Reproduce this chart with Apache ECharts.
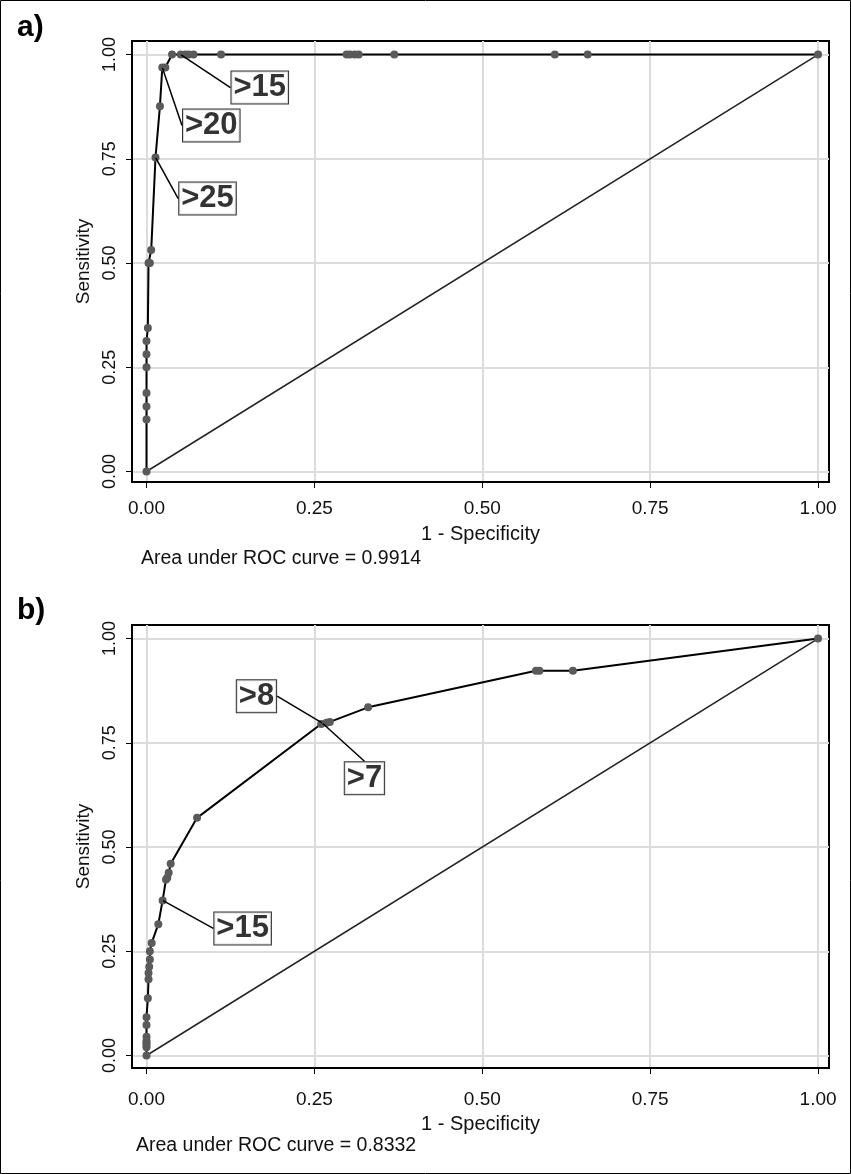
<!DOCTYPE html>
<html>
<head>
<meta charset="utf-8">
<script src="https://cdn.jsdelivr.net/npm/echarts@6/dist/echarts.min.js"></script>
<style>
html, body { margin: 0; padding: 0; background: #fff; }
#chart { width: 851px; height: 1174px; }
</style>
</head>
<body>
<div id="chart"></div>
<script>
// axis ticks shared by both panels
const tickValues = [0, 0.25, 0.5, 0.75, 1];

// panel a) ROC points (1 - specificity, sensitivity)
const fprA = [0, 0, 0, 0, 0, 0, 0, 0.002, 0.003, 0.005, 0.007, 0.0134, 0.02, 0.0235, 0.028,
    0.038, 0.051, 0.058, 0.063, 0.07, 0.111, 0.298, 0.303, 0.31, 0.316, 0.369, 0.608, 0.657, 1];
const tprA = [0, 0.125, 0.156, 0.188, 0.25, 0.281, 0.313, 0.344, 0.5, 0.5, 0.531, 0.753, 0.876, 0.969, 0.969,
    1, 1, 1, 1, 1, 1, 1, 1, 1, 1, 1, 1, 1, 1];
const cutLabelsA = ['>15', '>20', '>25'];
const cutFprA = [0.051, 0.0235, 0.0134];
const cutTprA = [1, 0.969, 0.753];
const aucA = 'Area under ROC curve = 0.9914';

// panel b) ROC points
const fprB = [0, 0, 0, 0, 0, 0, 0, 0, 0.002, 0.003, 0.003, 0.004, 0.005, 0.005, 0.0077, 0.0176, 0.024,
    0.029, 0.031, 0.033, 0.036, 0.0753, 0.26, 0.268, 0.273, 0.33, 0.58, 0.585, 0.635, 1];
const tprB = [0, 0.02, 0.025, 0.03, 0.035, 0.045, 0.073, 0.092, 0.1375, 0.183, 0.198, 0.213, 0.23, 0.25, 0.27, 0.315, 0.372,
    0.422, 0.426, 0.438, 0.46, 0.57, 0.795, 0.798, 0.8, 0.835, 0.923, 0.923, 0.923, 1];
const cutLabelsB = ['>8', '>7', '>15'];
const cutFprB = [0.262, 0.262, 0.024];
const cutTprB = [0.797, 0.797, 0.372];
const aucB = 'Area under ROC curve = 0.8332';

// label box offsets from their points (px)
const offsetsA = [[79, 33], [49, 58], [52, 41]];
const offsetsB = [[-66, -27], [42, 55], [80, 28]];

const font = 'Arial, "Liberation Sans", sans-serif';
const chart = echarts.init(document.getElementById('chart'), null, {renderer: 'canvas'});

function pairs(xs, ys) {
    return xs.map(function (x, i) { return [x, ys[i]]; });
}

function cuts(names, xs, ys) {
    return names.map(function (n, i) { return {name: n, value: [xs[i], ys[i]]}; });
}

function xAxis(gridIndex, labelMargin, nameGap) {
    return {
        gridIndex: gridIndex
        , type: 'value'
        , min: -0.0216
        , max: 1.0163
        , axisLine: {show: true, onZero: false, lineStyle: {color: '#000', width: 2}}
        , axisTick: {show: true, customValues: tickValues, length: 6, lineStyle: {color: '#000', width: 1}}
        , axisLabel: {
            customValues: tickValues, margin: labelMargin, fontSize: 19, color: '#111', fontFamily: font
            , formatter: function (v) { return v.toFixed(2); }
        }
        , splitLine: {show: true, lineStyle: {color: '#dcdcdc', width: 2}}
        , name: '1 - Specificity'
        , nameLocation: 'middle'
        , nameGap: nameGap
        , nameTextStyle: {fontSize: 20, color: '#111', fontFamily: font}
    };
}

function yAxis(gridIndex, min) {
    return {
        gridIndex: gridIndex
        , type: 'value'
        , min: min
        , max: 1.0325
        , axisLine: {show: true, onZero: false, lineStyle: {color: '#000', width: 2}}
        , axisTick: {show: true, customValues: tickValues, length: 6, lineStyle: {color: '#000', width: 1}}
        , axisLabel: {
            customValues: tickValues, rotate: 90, margin: 13, fontSize: 18, color: '#111', fontFamily: font
            , formatter: function (v) { return v.toFixed(2); }
        }
        , splitLine: {show: true, lineStyle: {color: '#dcdcdc', width: 2}}
        , name: 'Sensitivity'
        , nameLocation: 'middle'
        , nameGap: 36
        , nameTextStyle: {fontSize: 19, color: '#111', fontFamily: font}
    };
}

function rocSeries(idx, data) {
    return {
        type: 'line'
        , xAxisIndex: idx
        , yAxisIndex: idx
        , data: data
        , symbol: 'circle'
        , symbolSize: 8
        , itemStyle: {color: '#5a5a5a'}
        , lineStyle: {color: '#000', width: 2}
        , z: 3
        , animation: false
    };
}

function diagSeries(idx) {
    return {
        type: 'line'
        , xAxisIndex: idx
        , yAxisIndex: idx
        , data: [[0, 0], [1, 1]]
        , symbol: 'none'
        , lineStyle: {color: '#222', width: 1.5}
        , z: 2
        , animation: false
    };
}

function cutSeries(idx, data, offsets) {
    return {
        type: 'scatter'
        , xAxisIndex: idx
        , yAxisIndex: idx
        , data: data
        , symbolSize: 1
        , itemStyle: {color: 'rgba(0,0,0,0)'}
        , z: 5
        , label: {
            show: true
            , position: 'inside'
            , formatter: '{b}'
            , fontSize: 31
            , lineHeight: 30
            , fontWeight: 'bold'
            , fontFamily: font
            , color: '#000'
            , backgroundColor: '#fff'
            , borderColor: '#000'
            , borderWidth: 1
            , padding: [2, 2, 0, 2]
        }
        , labelLayout: function (params) {
            const o = offsets[params.dataIndex];
            return {dx: o[0], dy: o[1]};
        }
        , labelLine: {show: true, lineStyle: {color: '#000', width: 1.5}}
        , animation: false
    };
}

chart.setOption({
    backgroundColor: '#fff'
    , animation: false
    , grid: [
        {left: 132, top: 41, width: 697, height: 441, show: true, borderColor: '#000', borderWidth: 2}
        , {left: 132, top: 625, width: 697, height: 443, show: true, borderColor: '#000', borderWidth: 2}
    ]
    , xAxis: [xAxis(0, 17, 42), xAxis(1, 22, 46)]
    , yAxis: [yAxis(0, -0.0252), yAxis(1, -0.0300)]
    , series: [
        diagSeries(0)
        , rocSeries(0, pairs(fprA, tprA))
        , cutSeries(0, cuts(cutLabelsA, cutFprA, cutTprA), offsetsA)
        , diagSeries(1)
        , rocSeries(1, pairs(fprB, tprB))
        , cutSeries(1, cuts(cutLabelsB, cutFprB, cutTprB), offsetsB)
    ]
    , graphic: [
        {type: 'rect', shape: {x: 0.5, y: 0.5, width: 850, height: 1173}, style: {fill: 'none', stroke: '#000', lineWidth: 1}}
        , {type: 'text', left: 17, top: 13, style: {text: 'a)', font: 'bold 30px ' + font, fill: '#000'}}
        , {type: 'text', left: 17, top: 596, style: {text: 'b)', font: 'bold 30px ' + font, fill: '#000'}}
        , {type: 'text', left: 141, top: 549, style: {text: aucA, font: '19.5px ' + font, fill: '#111'}}
        , {type: 'text', left: 136, top: 1136, style: {text: aucB, font: '19.5px ' + font, fill: '#111'}}
    ]
});
</script>
</body>
</html>
